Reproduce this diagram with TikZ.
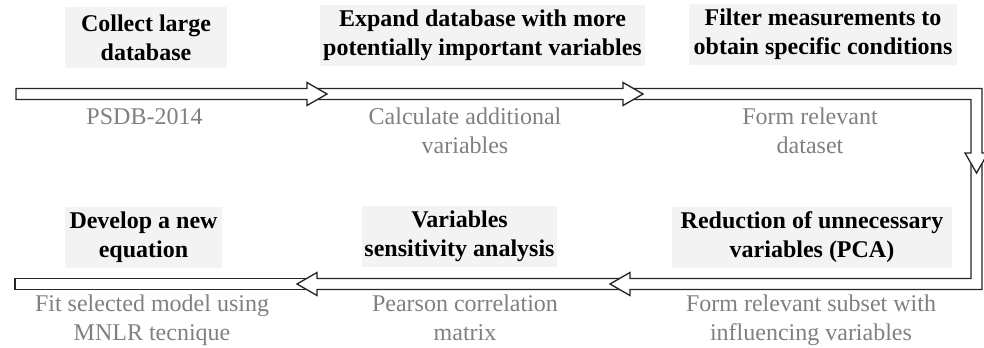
\documentclass[tikz,border=0pt]{standalone}
\usepackage{fontspec}
\setmainfont{Liberation Serif}
\usepackage{tikz}
\usetikzlibrary{positioning}
\definecolor{Stage}{HTML}{F3F3F3}
\definecolor{Note}{HTML}{808080}
\definecolor{Edge}{HTML}{262626}
\tikzset{
  flow/.style={draw=Edge,fill=white,line width=1pt,line join=miter},
  stage/.style={fill=Stage,font=\bfseries\fontsize{18}{21.75}\selectfont,align=center,inner xsep=2pt,minimum height=45.75pt},
  note/.style={text=Note,font=\fontsize{18}{21.75}\selectfont,align=center,inner sep=0pt,anchor=north}
}
% hollow block arrows: start x, tip x, row y
\newcommand{\rarrow}[3]{%
  \draw[flow] (#1,#3-5.5) -- (#2-20,#3-5.5) -- (#2-20,#3-11.5) -- (#2,#3) -- (#2-20,#3+11.5) -- (#2-20,#3+5.5) -- (#1,#3+5.5) -- cycle;
}
\newcommand{\larrow}[3]{%
  \draw[flow] (#1,#3-5.5) -- (#2+20,#3-5.5) -- (#2+20,#3-11.5) -- (#2,#3) -- (#2+20,#3+11.5) -- (#2+20,#3+5.5) -- (#1,#3+5.5) -- cycle;
}
\begin{document}
\begin{tikzpicture}[x=0.75pt,y=-0.75pt]
        \clip (0,0) rectangle (984,347);
        % bottom row, right to left (drawn first so the heads lie on top)
        \draw[flow] (312,278.5) rectangle (15,289.5);
        \larrow{625}{297}{284}
        \draw[flow] (971,158) -- (971,278.5) -- (630,278.5) -- (630,272.5) -- (610,284) -- (630,295.5) -- (630,289.5) -- (982,289.5) -- (982,158) -- cycle;
        \draw[flow] (628,88.5) -- (982,88.5) -- (982,153) -- (988,153) -- (976.5,173) -- (965,153) -- (971,153) -- (971,99.5) -- (628,99.5) -- cycle;
        \rarrow{312}{643}{94}
        \rarrow{16}{327}{94}
        % stages
        \node[stage,minimum width=121.5pt] (collect) at (146,37.5) {Collect large\\database};
        \node[stage,minimum width=244pt] (expand) at (482.5,35) {Expand database with more\\potentially important variables};
        \node[stage,minimum width=201pt] (filter) at (823,34.5) {Filter measurements to\\obtain specific conditions};
        \node[stage,minimum width=210pt] (reduce) at (812,237) {Reduction of unnecessary\\variables (PCA)};
        \node[stage,minimum width=146pt] (sensit) at (459.5,236) {Variables\\sensitivity analysis};
        \node[stage,minimum width=118pt] (develop) at (143.5,237) {Develop a new\\equation};
        % what is done at each stage
        \node[note] (psdb) at (144.5,108) {PSDB-2014};
        \node[note] (calc) at (465,108) {Calculate additional\\variables};
        \node[note] (dataset) at (810,108) {Form relevant\\dataset};
        \node[note] (subset) at (811,294.5) {Form relevant subset with\\influencing variables};
        \node[note] (pearson) at (465,294.5) {Pearson correlation\\matrix};
        \node[note] (fit) at (152,294.5) {Fit selected model using\\MNLR tecnique};
      \end{tikzpicture}
\end{document}
